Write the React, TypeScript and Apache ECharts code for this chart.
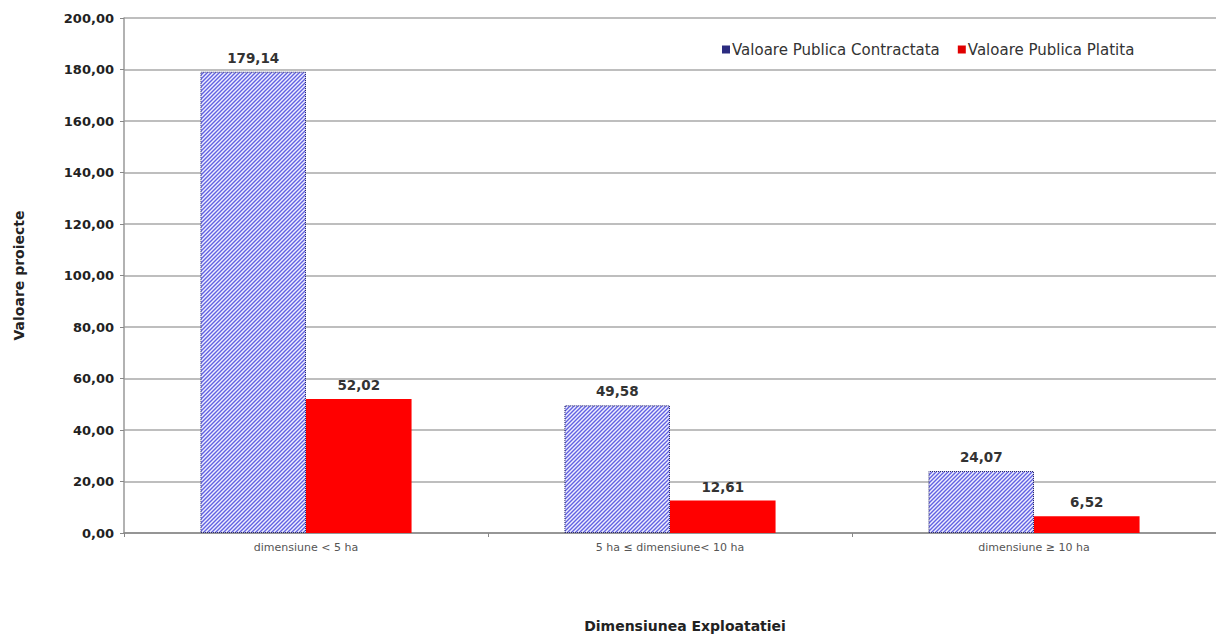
import React, { useEffect, useRef } from "react";
import * as echarts from "echarts";

const categories = ["dimensiune < 5 ha", "5 ha ≤ dimensiune< 10 ha", "dimensiune ≥ 10 ha"];
const contractata = [179.14, 49.58, 24.07];
const platita = [52.02, 12.61, 6.52];
const seriesNames = ["Valoare Publica Contractata", "Valoare Publica Platita"];
const yTitle = "Valoare proiecte";
const xTitle = "Dimensiunea Exploatatiei";

const fmt = (v: number) => v.toFixed(2).replace(".", ",");
const FONT = "DejaVu Sans, Verdana, sans-serif";

function makePattern(): HTMLCanvasElement {
  const c = document.createElement("canvas");
  c.width = 4;
  c.height = 4;
  const ctx = c.getContext("2d")!;
  ctx.fillStyle = "#f0f0ff";
  ctx.fillRect(0, 0, 4, 4);
  ctx.strokeStyle = "#6262e2";
  ctx.lineWidth = 1.4;
  ctx.beginPath();
  ctx.moveTo(-1, 5);
  ctx.lineTo(5, -1);
  ctx.moveTo(-1, 1);
  ctx.lineTo(1, -1);
  ctx.moveTo(3, 5);
  ctx.lineTo(5, 3);
  ctx.stroke();
  return c;
}

export default function App() {
  const ref = useRef<HTMLDivElement>(null);
  useEffect(() => {
    document.body.style.margin = "0";
    const chart = echarts.init(ref.current!, null, { renderer: "svg" });
    const pattern = { image: makePattern(), repeat: "repeat" } as any;
    const labelStyle = {
      show: true,
      position: "top" as const,
      distance: 7,
      fontFamily: FONT,
      fontWeight: "bold" as const,
      fontSize: 13.5,
      color: "#333",
      formatter: (p: any) => fmt(p.value),
    };
    chart.setOption({
      animation: false,
      backgroundColor: "#ffffff",
      textStyle: { fontFamily: FONT },
      grid: { left: 124, top: 18, width: 1098, height: 517, containLabel: false },
      legend: {
        top: 37,
        left: 717,
        itemWidth: 8,
        itemHeight: 8,
        itemGap: 18,
        textStyle: { fontSize: 15, color: "#333", fontFamily: FONT, padding: [0, 0, 0, -3] },
        data: [
          { name: seriesNames[0], icon: "rect", itemStyle: { color: "#2c2c80", borderWidth: 0 } },
          { name: seriesNames[1], icon: "rect", itemStyle: { color: "#e00000", borderWidth: 0 } },
        ],
      },
      xAxis: {
        type: "category",
        data: categories,
        name: xTitle,
        nameLocation: "middle",
        nameGap: 86,
        nameTextStyle: { fontSize: 14, fontWeight: "bold", color: "#222", fontFamily: FONT, padding: [0, 0, 0, 30] },
        axisLine: { lineStyle: { color: "#888", width: 1.5 } },
        axisTick: { show: true, length: 4, lineStyle: { color: "#888" } },
        axisLabel: { fontSize: 11, color: "#555", margin: 9, fontFamily: FONT },
      },
      yAxis: {
        type: "value",
        min: 0,
        max: 200,
        interval: 20,
        name: yTitle,
        nameLocation: "middle",
        nameGap: 98,
        nameRotate: 90,
        nameTextStyle: { fontSize: 14, fontWeight: "bold", color: "#222", fontFamily: FONT },
        axisLine: { show: true, lineStyle: { color: "#999", width: 1.5 } },
        axisTick: { show: true, length: 4, lineStyle: { color: "#888" } },
        axisLabel: {
          fontSize: 13,
          fontWeight: "bold",
          color: "#222",
          margin: 10,
          fontFamily: FONT,
          formatter: (v: number) => fmt(v),
        },
        splitLine: { show: true, lineStyle: { color: "#a8a8a8", width: 1.5 } },
      },
      series: [
        {
          name: seriesNames[0],
          type: "bar",
          data: contractata,
          barGap: "0%",
          barCategoryGap: "42%",
          itemStyle: { color: pattern, borderColor: "#20206a", borderWidth: 1, borderType: "dotted" },
          label: labelStyle,
        },
        {
          name: seriesNames[1],
          type: "bar",
          data: platita,
          barGap: "0%",
          barCategoryGap: "42%",
          itemStyle: { color: "#ff0000" },
          label: labelStyle,
        },
      ],
    });
    return () => chart.dispose();
  }, []);
  return <div ref={ref} style={{ width: 1216, height: 638 }} />;
}
